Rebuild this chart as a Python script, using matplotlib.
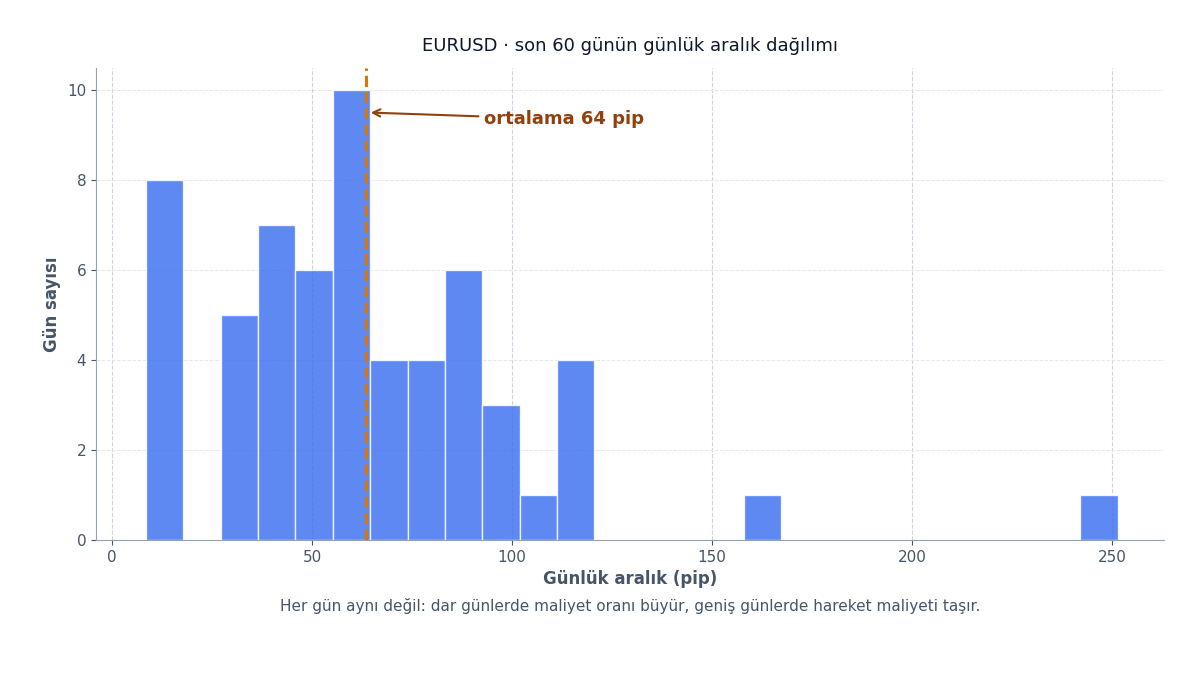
import numpy as np
import matplotlib
matplotlib.use("Agg")
import matplotlib.pyplot as plt

counts = [8, 0, 5, 7, 6, 10, 4, 4, 6, 3, 1, 4, 0, 0, 0, 0, 1, 0, 0, 0, 0, 0, 0, 0, 0, 1]
range_min, range_max = 8.5, 251.4
mean_pip = 63.5
title = "EURUSD · son 60 günün günlük aralık dağılımı"
xlabel = "Günlük aralık (pip)"
ylabel = "Gün sayısı"
note = "Her gün aynı değil: dar günlerde maliyet oranı büyür, geniş günlerde hareket maliyeti taşır."

edges = np.linspace(range_min, range_max, len(counts) + 1)
fig = plt.figure(figsize=(12, 6.75), dpi=100)
ax = fig.add_axes([0.08, 0.2, 0.89, 0.7])
ax.bar(edges[:-1], counts, width=np.diff(edges), align="edge", color="#3b6ef0", alpha=0.82,
       edgecolor="white", linewidth=1, zorder=2)
ax.axvline(mean_pip, color="#d97706", ls="--", lw=2.2, zorder=3)
ax.annotate(f"ortalama {mean_pip:.0f} pip", xy=(mean_pip + 0.5, 9.5), xytext=(93, 9.35),
            color="#92400e", fontsize=13, fontweight="bold", va="center",
            arrowprops=dict(arrowstyle="->", color="#92400e", lw=1.5))
ax.set_xlim(-4, 263)
ax.set_ylim(0, 10.5)
ax.set_xticks([0, 50, 100, 150, 200, 250])
ax.set_yticks([0, 2, 4, 6, 8, 10])
ax.grid(axis="x", ls="--", color="#cbd5e1", lw=0.8, zorder=0)
ax.grid(axis="y", ls="--", color="#e2e8f0", lw=0.7, zorder=0)
for s in ["top", "right"]:
    ax.spines[s].set_visible(False)
for s in ["left", "bottom"]:
    ax.spines[s].set_color("#94a3b8")
ax.tick_params(colors="#475569", labelsize=11)
ax.set_title(title, fontsize=13, color="#0f172a", pad=12)
ax.set_xlabel(xlabel, fontsize=12, fontweight="bold", color="#475569")
ax.set_ylabel(ylabel, fontsize=12, fontweight="bold", color="#475569")
fig.text(0.525, 0.095, note, ha="center", fontsize=11, color="#475569")
fig.savefig("out.png", dpi=100)
